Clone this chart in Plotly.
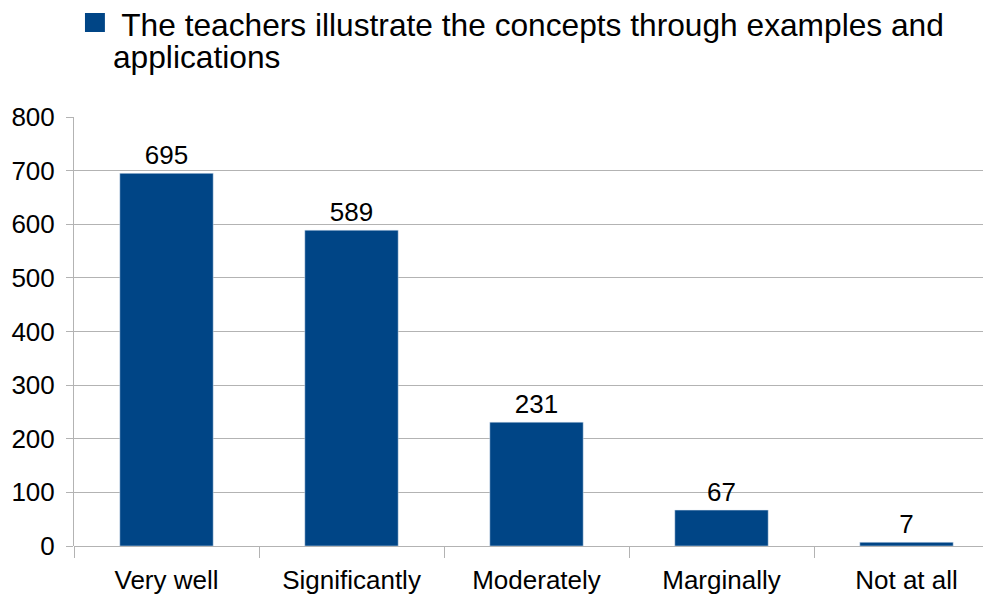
import plotly.graph_objects as go

categories = ["Very well", "Significantly", "Moderately", "Marginally", "Not at all"]
values = [695, 589, 231, 67, 7]
series_lines = ["The teachers illustrate the concepts through examples and", "applications"]

# page body has an 8px margin; compensate so the visible chart lines up
OFF = 8
W, H = 991, 598
L, T = 74 - OFF, 117 - OFF
PW, PH = 928, 429
R = W - L - PW
B = H - T - PH
BLUE = "#004586"
GRID = "#b3b3b3"
FONT = "Liberation Sans, Arial, sans-serif"

def px_x(p):
    return (p - OFF - L) / PW

def px_y(p):
    return (T + PH - (p - OFF)) / PH

fig = go.Figure()
fig.add_trace(go.Bar(
    x=categories, y=values, marker_color=BLUE, width=0.505,
    text=[str(v) for v in values], textposition="outside",
    textfont=dict(size=26, color="black", family=FONT),
    cliponaxis=False, showlegend=False,
))

fig.add_shape(type="rect", xref="paper", yref="paper",
              x0=px_x(85), x1=px_x(105), y0=px_y(32), y1=px_y(13),
              fillcolor=BLUE, line=dict(width=0))
for i, line in enumerate(series_lines):
    fig.add_annotation(xref="paper", yref="paper", x=px_x(112), y=px_y(44 + 32 * i),
                       xanchor="left", yanchor="bottom", align="left", showarrow=False,
                       text=(" " if i == 0 else "") + line, borderpad=0,
                       font=dict(size=31.7, color="black", family=FONT))

fig.update_layout(
    width=W, height=H, margin=dict(l=L, r=max(R, 0), t=T, b=B),
    paper_bgcolor="white", plot_bgcolor="white",
    font=dict(family=FONT, color="black", size=26),
    bargap=0.49,
)
fig.update_xaxes(showgrid=False, tickson="boundaries", ticks="outside", ticklen=11,
                 tickcolor=GRID, showline=False, automargin=False, ticklabelstandoff=16,
                 tickfont=dict(size=26, color="black"))
fig.update_yaxes(range=[0, 800], dtick=100, showgrid=True, gridcolor=GRID, gridwidth=1,
                 ticks="outside", ticklen=7, tickcolor=GRID, showline=True, linecolor=GRID,
                 zeroline=True, zerolinecolor=GRID, zerolinewidth=1, automargin=False,
                 ticklabelstandoff=6, tickfont=dict(size=26, color="black"))

fig.write_html("out.html")
